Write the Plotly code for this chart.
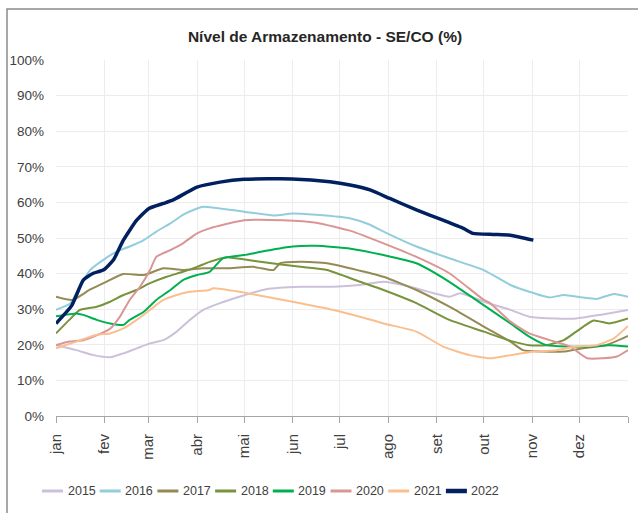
import plotly.graph_objects as go

# Month labels (Portuguese) and month lengths (day-of-year axis)
MONTHS = ["jan", "fev", "mar", "abr", "mai", "jun", "jul", "ago", "set", "out", "nov", "dez"]
MONTH_DAYS = [31, 28, 31, 30, 31, 30, 31, 31, 30, 31, 30, 31]

YEARS = ["2015", "2016", "2017", "2018", "2019", "2020", "2021", "2022"]

# Day-of-year positions and storage level (%)
d2015 = [0, 13, 24, 34.5, 43, 51.5, 60, 68.5, 77, 85.5, 94, 104.6, 117, 134, 156, 177, 194, 209, 226, 241, 251, 258, 273, 290, 302, 319, 332, 347, 365]
v2015 = [19.9, 18.5, 17.1, 16.5, 17.6, 19, 20.4, 21.3, 23.7, 27, 29.8, 31.7, 33.5, 35.6, 36.3, 36.3, 36.8, 37.7, 36.3, 34.5, 33.5, 34.5, 32.1, 29.8, 27.9, 27.4, 27.4, 28.4, 29.8]

d2016 = [0, 9, 13, 21.7, 30, 38.7, 47, 56, 64, 73, 81, 90, 94, 120, 139, 151, 166, 188, 200, 209, 230, 251, 273, 290, 302, 315, 324, 336, 345, 356, 365]
v2016 = [29.8, 31.6, 34.5, 41, 43.8, 46.2, 47.6, 49.4, 51.8, 54.1, 56.5, 58.3, 58.8, 57.4, 56.3, 56.9, 56.5, 55.5, 53.8, 51.8, 47.6, 44.3, 41, 36.8, 34.9, 33.3, 34, 33.3, 32.9, 34.3, 33.5]

d2017 = [0, 10.6, 21.3, 32, 43, 56, 68.5, 81, 94, 109, 126, 138.7, 143, 156, 173, 194, 209, 230, 251, 273, 290, 298, 311, 324, 336, 351, 365]
v2017 = [33.5, 32.6, 35.4, 37.7, 39.9, 39.6, 41.5, 41, 41.5, 41.5, 41.9, 41, 42.9, 43.3, 42.9, 40.8, 39.1, 35.4, 30.7, 25.1, 20.9, 18.5, 18.1, 18.1, 19, 19.9, 22.5]

d2018 = [0, 8.5, 15.3, 26, 34.5, 43, 51.5, 60, 70.6, 81, 90, 98, 109, 119.5, 134, 156, 173, 194, 209, 230, 251, 273, 290, 302, 313, 324, 332, 343, 353, 365]
v2018 = [23.2, 27, 29.8, 30.7, 32.1, 34, 35.4, 37.3, 39.1, 40.5, 41.9, 43.3, 44.6, 44, 43.1, 41.9, 41, 37.7, 35.4, 31.7, 27, 23.7, 21.1, 19.9, 19.9, 21.3, 23.7, 26.8, 26, 27.4]

d2019 = [0, 13, 17.4, 26, 34.5, 43, 47, 56, 64, 73, 81, 90, 98, 106.5, 120, 134, 151, 166, 188, 209, 230, 251, 268, 290, 302, 313, 326, 341, 353, 365]
v2019 = [28, 28.8, 28.4, 27, 26, 25.6, 27, 29.3, 32.6, 35.4, 38.2, 39.6, 40.5, 44.3, 45.2, 46.4, 47.6, 47.8, 47, 45.2, 42.9, 37.7, 32.6, 26, 22.3, 19.9, 19.5, 19.5, 19.9, 19.5]

d2020 = [0, 8.5, 17.4, 24, 34.5, 40.8, 47, 53.6, 60, 64, 73, 81, 90, 98, 120, 145, 166, 188, 209, 230, 251, 273, 277, 290, 302, 315, 328, 339, 349, 358, 365]
v2020 = [19.9, 20.9, 21.3, 22.3, 24.5, 27.9, 32.6, 36.3, 41, 44.7, 46.6, 48.5, 51.3, 52.7, 55, 55, 54.3, 52, 48.5, 44.7, 40.1, 32.6, 31.7, 26.5, 23.2, 21.3, 19.5, 16.2, 16.2, 16.7, 18.5]

d2021 = [0, 13, 26, 34.5, 43, 51.5, 60, 68.5, 77, 85.5, 98, 100.3, 117, 134, 156, 177, 194, 209, 230, 247, 264, 277, 290, 305, 319.5, 332, 345, 356, 365]
v2021 = [19, 20.9, 22.8, 23.2, 24.6, 27, 29.8, 32.6, 34, 34.9, 35.4, 35.9, 34.9, 33.5, 31.7, 29.8, 27.9, 26, 23.7, 19.5, 17.1, 16.2, 17.1, 18.1, 18.5, 19.5, 19.9, 21.8, 25.3]

d2022 = [0, 10, 17.4, 23.8, 30.2, 36.6, 43, 51.5, 59.3, 68.5, 74.8, 90, 104.6, 120, 150.6, 174.8, 187.6, 200.4, 213, 230, 247, 260, 266, 279, 290, 304.6]
v2022 = [26, 31, 38.2, 40.1, 41, 43.8, 49.4, 55, 58.3, 59.7, 60.7, 64.3, 65.7, 66.5, 66.6, 65.8, 64.9, 63.5, 61.1, 57.9, 55, 52.7, 51.3, 51, 50.8, 49.4]

DAYS = [d2015, d2016, d2017, d2018, d2019, d2020, d2021, d2022]
VALUES = [v2015, v2016, v2017, v2018, v2019, v2020, v2021, v2022]
COLORS = ["#CCC0DA", "#92CDDC", "#948A54", "#77933C", "#00B050", "#DA9694", "#FABF8F", "#002060"]
WIDTHS = [2, 2, 2, 2, 2, 2, 2, 3.5]

FONT = "Liberation Sans Narrow, Liberation Sans, Arial, sans-serif"

# Layout geometry (pixels)
W, H = 638, 513
ML, MR, MT, MB = 56, 10, 60, 97
PW, PH = W - ML - MR, H - MT - MB


def px_x(px):
    return (px - ML) / PW


def px_y(py):
    return (H - MB - py) / PH


fig = go.Figure()
for name, xs, ys, c, w in zip(YEARS, DAYS, VALUES, COLORS, WIDTHS):
    fig.add_trace(go.Scatter(x=xs, y=ys, mode="lines", name=name,
                             line=dict(color=c, width=w, shape="spline", smoothing=0.5),
                             showlegend=False))

month_starts = [0]
for m in MONTH_DAYS:
    month_starts.append(month_starts[-1] + m)

# Chart frame (gray border, partly cut off at right/bottom as in the reference)
shapes = [dict(type="rect", xref="paper", yref="paper",
               x0=px_x(7), x1=px_x(700), y0=px_y(600), y1=px_y(9),
               line=dict(color="#8c8c8c", width=1.5), layer="below")]

# Legend row (swatch + label per year)
annotations = []
LEG_X0, LEG_STEP, LEG_Y = 42, 57.7, 491
for i, (name, c, w) in enumerate(zip(YEARS, COLORS, WIDTHS)):
    x0 = LEG_X0 + i * LEG_STEP
    shapes.append(dict(type="line", xref="paper", yref="paper",
                       x0=px_x(x0), x1=px_x(x0 + 21), y0=px_y(LEG_Y), y1=px_y(LEG_Y),
                       line=dict(color=c, width=w + 1 if i == 7 else 3)))
    annotations.append(dict(text=name, xref="paper", yref="paper",
                            x=px_x(x0 + 23.5), y=px_y(LEG_Y), xanchor="left", yanchor="middle",
                            showarrow=False,
                            font=dict(family=FONT, size=12.5, color="#404040")))

fig.update_layout(
    width=W, height=H,
    margin=dict(l=ML, r=MR, t=MT, b=MB, autoexpand=False),
    paper_bgcolor="white", plot_bgcolor="white",
    font=dict(family=FONT, size=13, color="#404040"),
    title=dict(text="<b>Nível de Armazenamento - SE/CO (%)</b>",
               x=px_x(325), xanchor="center", xref="paper", y=(H - 37) / H, yanchor="middle",
               font=dict(family=FONT, size=15.5, color="#262626")),
    showlegend=False,
    shapes=shapes,
    annotations=annotations,
)

fig.update_xaxes(
    range=[0, 365], tickmode="array",
    tickvals=month_starts, ticktext=MONTHS + [""],
    tickangle=-90, ticks="outside", ticklen=6, tickcolor="#a6a6a6",
    ticklabelstandoff=5,
    showline=True, linecolor="#a6a6a6", linewidth=1,
    showgrid=True, gridcolor="#ececec", gridwidth=1,
    zeroline=False, fixedrange=True, automargin=False,
    tickfont=dict(family=FONT, size=15, color="#404040"),
)
fig.update_yaxes(
    range=[0, 100], dtick=10, ticksuffix="%",
    showgrid=True, gridcolor="#ececec", gridwidth=1,
    showline=False, zeroline=False, ticks="", fixedrange=True, automargin=False,
    ticklabelstandoff=11,
    tickfont=dict(family=FONT, size=13.5, color="#404040"),
)

# Remove the default page margin so the figure fills the 638x513 window exactly
fig.write_html("out.html",
               config={"displayModeBar": False},
               post_script="document.body.style.margin='0';document.body.style.overflow='hidden';")
